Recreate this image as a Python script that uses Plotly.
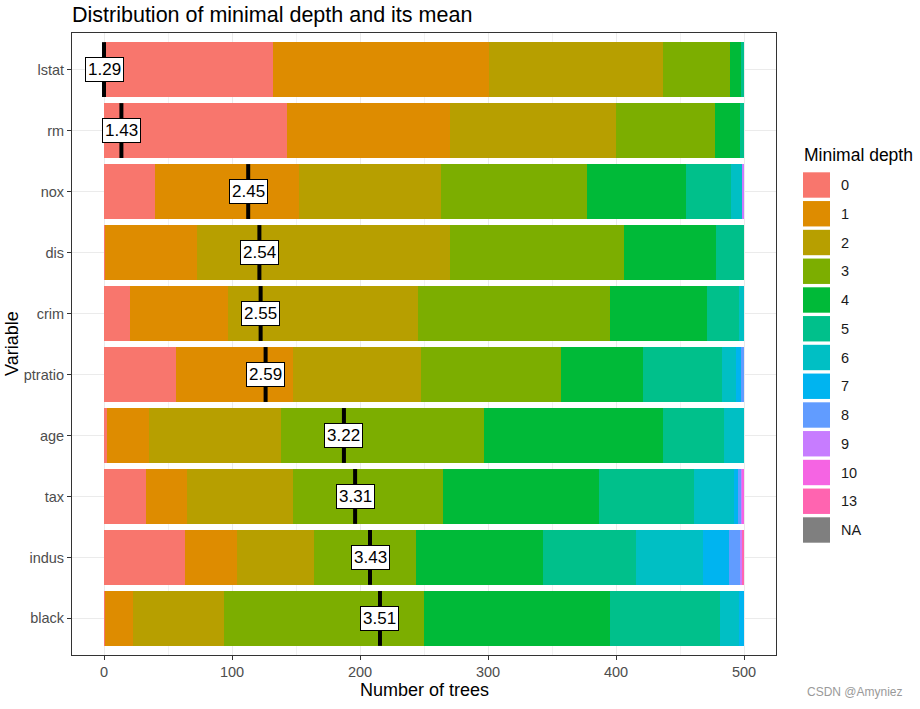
import plotly.graph_objects as go

# ---------------- data ----------------
variables = ["lstat", "rm", "nox", "dis", "crim", "ptratio", "age", "tax", "indus", "black"]
depth_levels = ["0", "1", "2", "3", "4", "5", "6", "7", "8", "9", "10", "13", "NA"]
depth_colors = ["#F8766D", "#DE8C00", "#B79F00", "#7CAE00", "#00BA38", "#00C08B",
                "#00BFC4", "#00B4F0", "#619CFF", "#C77CFF", "#F564E3", "#FF64B0", "#7F7F7F"]

# number of trees per minimal depth, in the order of `variables`
trees_depth_0 = [132, 143, 40, 1, 20, 56, 2, 33, 63, 1]
trees_depth_1 = [169, 127, 112, 72, 77, 92, 33, 32, 41, 22]
trees_depth_2 = [136, 130, 111, 197, 148, 100, 103, 83, 60, 71]
trees_depth_3 = [52, 77, 114, 136, 150, 109, 159, 117, 80, 156]
trees_depth_4 = [9, 20, 78, 72, 76, 64, 140, 122, 99, 145]
trees_depth_5 = [2, 3, 35, 22, 25, 62, 47, 74, 73, 86]
trees_depth_6 = [0, 0, 9, 0, 4, 11, 16, 31, 52, 15]
trees_depth_7 = [0, 0, 0, 0, 0, 4, 0, 3, 20, 4]
trees_depth_8 = [0, 0, 0, 0, 0, 2, 0, 3, 9, 0]
trees_depth_9 = [0, 0, 1, 0, 0, 0, 0, 1, 2, 0]
trees_depth_10 = [0, 0, 0, 0, 0, 0, 0, 1, 0, 0]
trees_depth_13 = [0, 0, 0, 0, 0, 0, 0, 0, 1, 0]
trees_depth_NA = [0, 0, 0, 0, 0, 0, 0, 0, 0, 0]

mean_min_depth = [1.29, 1.43, 2.45, 2.54, 2.55, 2.59, 3.22, 3.31, 3.43, 3.51]
label_scale = 215.6  # max no. of trees used to place the mean markers
x_tick_step = 100

depth_series = [trees_depth_0, trees_depth_1, trees_depth_2, trees_depth_3, trees_depth_4,
                trees_depth_5, trees_depth_6, trees_depth_7, trees_depth_8, trees_depth_9,
                trees_depth_10, trees_depth_13, trees_depth_NA]

# ---------------- layout helpers ----------------
W, H = 920, 709
# panel on screen: x 72..776, y 33..655
L, R, T, B = 72, W - 776, 33, H - 655
PW, PH = W - L - R, H - T - B
FONT = "Liberation Sans, Arial, sans-serif"


def px_x(px):  # pixel -> paper
    return (px - L) / PW


def px_y(py):
    return (H - B - py) / PH


fig = go.Figure()
for lvl, col, vals in zip(depth_levels, depth_colors, depth_series):
    fig.add_trace(go.Bar(y=variables, x=vals, orientation="h", name=lvl,
                         marker=dict(color=col, line=dict(width=0)),
                         showlegend=False, hoverinfo="x+y+name"))

mn, mx = min(mean_min_depth), max(mean_min_depth)
n = len(variables)
for i, (v, m) in enumerate(zip(variables, mean_min_depth)):
    pos = (m - mn) / (mx - mn) * label_scale
    idx = n - 1 - i
    fig.add_shape(type="line", xref="x", yref="y", x0=pos, x1=pos,
                  y0=idx - 0.45, y1=idx + 0.45, line=dict(color="black", width=4))
    fig.add_annotation(x=pos, y=v, xref="x", yref="y", text=f"{m:.2f}", showarrow=False,
                       bgcolor="white", bordercolor="black", borderwidth=1, borderpad=2,
                       font=dict(family=FONT, size=17, color="black"))

# custom legend
fig.add_annotation(xref="paper", yref="paper", x=px_x(802), y=px_y(155), text="Minimal depth",
                   showarrow=False, xanchor="left", yanchor="middle",
                   font=dict(family=FONT, size=17.5, color="black"))
for k, (lvl, col) in enumerate(zip(depth_levels, depth_colors)):
    top = 172.3 + 28.75 * k
    bot = top + 25.4
    fig.add_shape(type="rect", xref="paper", yref="paper", x0=px_x(803), x1=px_x(830),
                  y0=px_y(bot), y1=px_y(top), fillcolor=col, line=dict(width=0))
    fig.add_annotation(xref="paper", yref="paper", x=px_x(839), y=px_y((top + bot) / 2),
                       text=lvl, showarrow=False, xanchor="left", yanchor="middle",
                       font=dict(family=FONT, size=14.5, color="#1A1A1A"))

# axis titles and watermark
fig.add_annotation(xref="paper", yref="paper", x=0.5, y=px_y(690), text="Number of trees",
                   showarrow=False, xanchor="center", yanchor="middle",
                   font=dict(family=FONT, size=18, color="black"))
fig.add_annotation(xref="paper", yref="paper", x=px_x(12), y=0.5, text="Variable",
                   showarrow=False, textangle=-90, xanchor="center", yanchor="middle",
                   font=dict(family=FONT, size=18, color="black"))
fig.add_annotation(xref="paper", yref="paper", x=px_x(905), y=px_y(692), text="CSDN @Amyniez",
                   showarrow=False, xanchor="right", yanchor="middle",
                   font=dict(family=FONT, size=12, color="#9A9A9A"))

fig.update_layout(
    width=W, height=H,
    margin=dict(l=L, r=R, t=T, b=B, autoexpand=False),
    barmode="stack", bargap=0.1,
    plot_bgcolor="white", paper_bgcolor="white",
    font=dict(family=FONT),
    title=dict(text="Distribution of minimal depth and its mean", xref="container", yref="container",
               x=72 / W, xanchor="left", y=1 - 14 / H, yanchor="middle",
               font=dict(family=FONT, size=21.5, color="black")),
    xaxis=dict(range=[-25, 525], tick0=0, dtick=x_tick_step, showgrid=True, gridcolor="#EBEBEB",
               gridwidth=1, zeroline=False, ticks="outside", ticklen=4, tickcolor="#333333",
               tickfont=dict(family=FONT, size=14.5, color="#4D4D4D"),
               showline=True, mirror=True, linecolor="#333333", linewidth=1,
               minor=dict(dtick=x_tick_step / 2, showgrid=True, gridcolor="#F2F2F2", gridwidth=1)),
    yaxis=dict(type="category", categoryorder="array", categoryarray=variables[::-1],
               range=[-0.6, n - 0.4], showgrid=True, gridcolor="#EBEBEB", gridwidth=1,
               ticks="outside", ticklen=4, tickcolor="#333333",
               tickfont=dict(family=FONT, size=14.5, color="#4D4D4D"),
               showline=True, mirror=True, linecolor="#333333", linewidth=1),
)

fig.write_html("out.html", config={"displayModeBar": False},
               post_script="document.body.style.margin='0px';")
